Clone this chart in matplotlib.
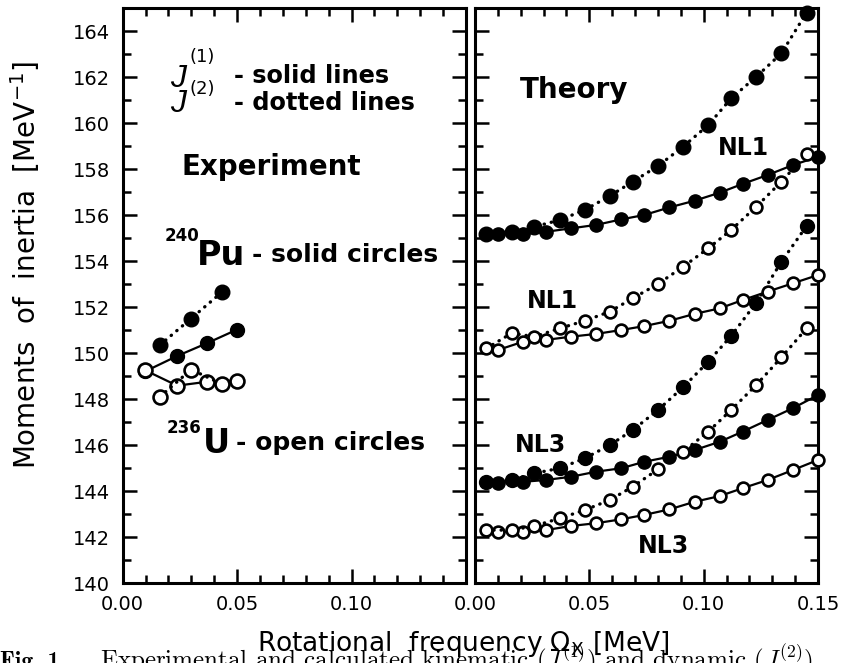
import matplotlib
matplotlib.use('Agg')
import matplotlib.pyplot as plt
from matplotlib.ticker import MultipleLocator, FixedLocator, FormatStrFormatter

# --- experiment (left panel): 240Pu solid circles, 236U open circles
w_exp_j1 = [0.0098, 0.0238, 0.0369, 0.0500]
w_exp_j2 = [0.0163, 0.0299, 0.0434]
pu_j1 = [149.2, 149.87, 150.43, 151.02]
pu_j2 = [150.35, 151.5, 152.65]
u_j1 = [149.25, 148.58, 148.75, 148.8]
u_j2 = [148.1, 149.28, 148.65]

# --- theory (right panel)
w_j1 = [0.010, 0.021, 0.031, 0.042, 0.053, 0.064, 0.074, 0.085, 0.096, 0.107, 0.117, 0.128, 0.139, 0.150]
w_j2 = [0.005, 0.016, 0.026, 0.037, 0.048, 0.059, 0.069, 0.080, 0.091, 0.102, 0.112, 0.123, 0.134, 0.145]

nl1_pu_j1 = [155.17, 155.17, 155.27, 155.42, 155.57, 155.81, 156.0, 156.33, 156.62, 156.97, 157.35, 157.74, 158.17, 158.53]
nl1_pu_j2 = [155.17, 155.27, 155.49, 155.78, 156.22, 156.83, 157.45, 158.13, 158.97, 159.91, 161.07, 162.01, 163.03, 164.8]
nl1_u_j1 = [150.13, 150.49, 150.57, 150.71, 150.83, 151.0, 151.17, 151.4, 151.7, 151.94, 152.3, 152.67, 153.03, 153.39]
nl1_u_j2 = [150.2, 150.86, 150.71, 151.07, 151.4, 151.8, 152.38, 153.0, 153.75, 154.55, 155.35, 156.36, 157.45, 158.65]
nl3_pu_j1 = [144.36, 144.4, 144.48, 144.62, 144.84, 144.99, 145.27, 145.49, 145.78, 146.14, 146.58, 147.09, 147.6, 148.17]
nl3_pu_j2 = [144.4, 144.48, 144.77, 144.99, 145.42, 146.0, 146.65, 147.52, 148.51, 149.62, 150.74, 152.19, 153.97, 155.52]
nl3_u_j1 = [142.23, 142.23, 142.3, 142.48, 142.6, 142.77, 142.96, 143.2, 143.53, 143.78, 144.12, 144.48, 144.91, 145.35]
nl3_u_j2 = [142.3, 142.3, 142.48, 142.81, 143.17, 143.61, 144.19, 144.94, 145.71, 146.58, 147.52, 148.61, 149.81, 151.07]

W, H = 845, 663
fig = plt.figure(figsize=(W / 100, H / 100), dpi=100)

def box(x0, x1, y0, y1):
    return [x0 / W, 1 - y1 / H, (x1 - x0) / W, (y1 - y0) / H]

ax1 = fig.add_axes(box(122.7, 466, 8, 583))
ax2 = fig.add_axes(box(475, 818, 8, 583))

for ax in (ax1, ax2):
    ax.set_xlim(0, 0.15)
    ax.set_ylim(140, 165)
    ax.yaxis.set_major_locator(MultipleLocator(2))
    ax.yaxis.set_minor_locator(MultipleLocator(1))
    ax.xaxis.set_minor_locator(MultipleLocator(0.01))
    ax.xaxis.set_major_formatter(FormatStrFormatter('%.2f'))
    ax.yaxis.set_major_formatter(FormatStrFormatter('%d'))
    ax.tick_params(which='both', direction='in', top=True, right=True, width=1.8, labelsize=14)
    ax.tick_params(which='major', length=10, pad=9)
    ax.tick_params(which='minor', length=5.5)
    for s in ax.spines.values():
        s.set_linewidth(2.2)

# left panel shows no 0.15 label
ax1.xaxis.set_major_locator(FixedLocator([0.0, 0.05, 0.10]))
ax2.xaxis.set_major_locator(MultipleLocator(0.05))
ax2.tick_params(labelleft=False)

solid = dict(ls='-', lw=1.6, color='k', marker='o', clip_on=False)
dotted = dict(ls=(0, (0.1, 2.1)), lw=2.4, dash_capstyle='round', color='k', marker='o', clip_on=False)
full = dict(mfc='k', mec='k', zorder=3)
hollow = dict(mfc='w', mec='k', mew=1.9, zorder=4)

# experiment
ax1.plot(w_exp_j1, pu_j1, ms=10, **solid, **full)
ax1.plot(w_exp_j2, pu_j2, ms=10.5, **dotted, **full)
ax1.plot(w_exp_j1, u_j1, ms=10, **solid, **hollow)
ax1.plot(w_exp_j2, u_j2, ms=10, **dotted, **hollow)

# theory
ax2.plot(w_j1, nl1_pu_j1, ms=9.5, **solid, **full)
ax2.plot(w_j2, nl1_pu_j2, ms=10.5, **dotted, **full)
ax2.plot(w_j1, nl3_pu_j1, ms=9.5, **solid, **full)
ax2.plot(w_j2, nl3_pu_j2, ms=10, **dotted, **full)
ax2.plot(w_j1, nl1_u_j1, ms=8.5, **solid, **hollow)
ax2.plot(w_j2, nl1_u_j2, ms=8.5, **dotted, **hollow)
ax2.plot(w_j1, nl3_u_j1, ms=8.5, **solid, **hollow)
ax2.plot(w_j2, nl3_u_j2, ms=8.5, **dotted, **hollow)

def put(x, y, s, **kw):
    kw.setdefault('va', 'baseline')
    fig.text(x / W, 1 - y / H, s, **kw)

put(170, 87, 'J', family='Liberation Sans', style='italic', size=23)
put(190, 62, '(1)', size=13)
put(234, 83, '- solid lines', weight='bold', size=17.3)
put(170, 112, 'J', family='Liberation Sans', style='italic', size=23)
put(190, 94, '(2)', size=13)
put(234, 110, '- dotted lines', weight='bold', size=17.3)
put(182, 175, 'Experiment', weight='bold', size=20)
put(165, 241, '240', weight='bold', size=12)
put(197, 265, 'Pu', weight='bold', size=24)
put(252, 262, '- solid circles', weight='bold', size=18)
put(167, 433, '236', weight='bold', size=12)
put(203, 453, 'U', weight='bold', size=24)
put(236, 450, '- open circles', weight='bold', size=18)

put(520, 98, 'Theory', weight='bold', size=20)
put(718, 155, 'NL1', weight='bold', size=17)
put(527, 308, 'NL1', weight='bold', size=17)
put(515, 452, 'NL3', weight='bold', size=17)
put(638, 553, 'NL3', weight='bold', size=17)

put(25, 265, r'Moments  of  inertia  [MeV$^{-1}$]', rotation=90, size=20, ha='center', va='center')
put(463, 651, r'Rotational  frequency $\Omega_{\rm X}$ [MeV]', size=19, ha='center')

# figure caption, cut off by the lower edge
put(0, 668, 'Fig. 1.', family='cmb10', size=17)
put(100, 668, r'Experimental and calculated kinematic ($J^{(1)}$) and dynamic ($J^{(2)}$)',
    family='cmr10', math_fontfamily='cm', size=18)

fig.savefig('out.png', dpi=100)
